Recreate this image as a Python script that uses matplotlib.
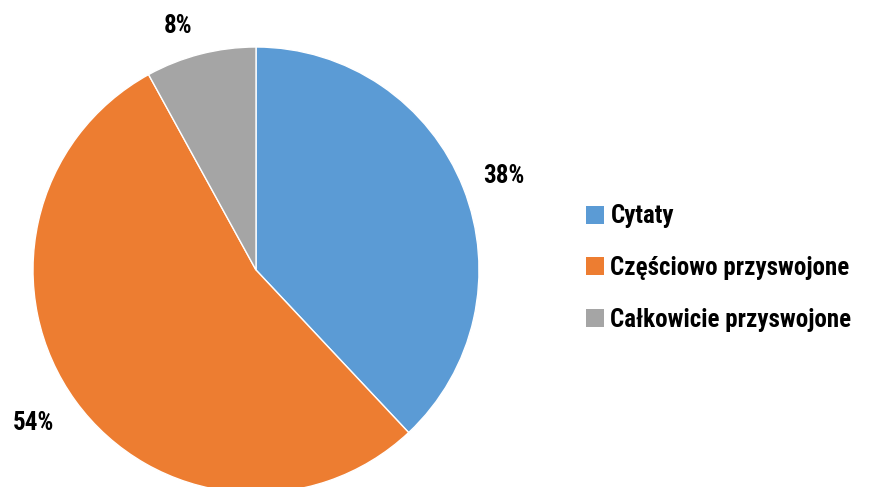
import matplotlib
matplotlib.use("Agg")
import numpy as np
import matplotlib.pyplot as plt
from matplotlib.patches import Patch
from matplotlib import font_manager

categories = ["Cytaty", "Częściowo przyswojone", "Całkowicie przyswojone"]
values = [38, 54, 8]
colors = ["#5B9BD5", "#ED7D31", "#A5A5A5"]

fams = {f.name for f in font_manager.fontManager.ttflist}
fam = next((f for f in ["Roboto Condensed", "PT Sans Narrow", "Liberation Sans Narrow"] if f in fams), "DejaVu Sans")
plt.rcParams["font.family"] = [fam, "DejaVu Sans"]

fig = plt.figure(figsize=(8.69, 4.87), dpi=100)
ax = fig.add_axes([33/869, -6/487, 446/869, 446/487])
wedges, texts, autotexts = ax.pie(
    values, colors=colors, startangle=90, counterclock=False, radius=1,
    autopct=lambda p: f"{p:.0f}%", pctdistance=1.18,
    wedgeprops=dict(edgecolor="white", linewidth=1.0),
    textprops=dict(fontsize=18, fontweight=600, color="#000000"))
# label placement tweaks (distance, angle offset in degrees), like Excel's best fit
tweaks = [(1.19, -0.8), (1.21, -1.5), (1.15, 3.3)]
for w, t, (d, off) in zip(wedges, autotexts, tweaks):
    ang = np.deg2rad((w.theta1 + w.theta2) / 2 + off)
    t.set_position((d * np.cos(ang), d * np.sin(ang)))
ax.set_xlim(-1, 1)
ax.set_ylim(-1, 1)
ax.set_aspect("equal")
ax.axis("off")

handles = [Patch(facecolor=c, edgecolor="none") for c in colors]
fig.legend(handles, categories, loc="center left", bbox_to_anchor=(563/869, 1 - 268/487),
           frameon=False, prop=dict(family=[fam, "DejaVu Sans"], weight=600, size=18),
           handlelength=0.75, handleheight=0.75, handletextpad=0.25, labelspacing=1.1,
           labelcolor="#000000")

fig.savefig("out.png", dpi=100)
